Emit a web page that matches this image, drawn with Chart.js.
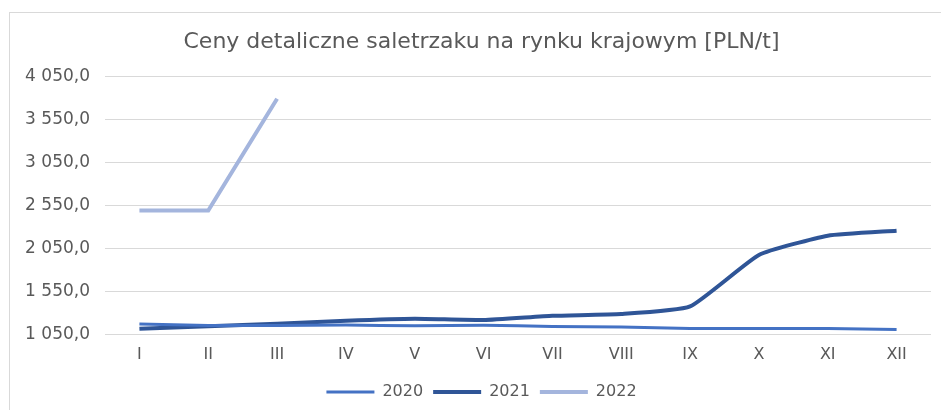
<!DOCTYPE html>
<html>
<head>
<meta charset="utf-8">
<script src="https://cdn.jsdelivr.net/npm/chart.js@4/dist/chart.umd.min.js"></script>
<style>
  html, body { margin: 0; padding: 0; background: #fff; }
  #wrap { position: relative; width: 941px; height: 410px; overflow: hidden; }
  #frame { position: absolute; left: 9px; top: 12px; width: 960px; height: 440px; border: 1px solid #D9D9D9; box-sizing: border-box; }
  canvas { position: absolute; left: 0; top: 0; }
</style>
</head>
<body>
<div id="wrap">
  <div id="frame"></div>
  <canvas id="chart" width="941" height="410"></canvas>
</div>
<script>
// months as roman numerals
const months = ['I', 'II', 'III', 'IV', 'V', 'VI', 'VII', 'VIII', 'IX', 'X', 'XI', 'XII'];

// PLN/t
const prices2020 = [1175, 1158, 1158, 1163, 1155, 1160, 1147, 1140, 1124, 1124, 1124, 1112];
const prices2021 = [1120, 1150, 1178, 1213, 1236, 1221, 1271, 1291, 1379, 1977, 2201, 2259];
const prices2022 = [2492, 2492, 3790, null, null, null, null, null, null, null, null, null];

const yTicks = [1050, 1550, 2050, 2550, 3050, 3550, 4050];

const grey = '#595959';
Chart.defaults.font.family = '"DejaVu Sans", sans-serif';
Chart.defaults.color = grey;

function fmt(v) {
    // 4050 -> "4 050,0"
    const s = Math.round(v).toString();
    const th = s.length > 3 ? s.slice(0, -3) + ' ' + s.slice(-3) : s;
    return th + ',0';
}

// title and legend sit a bit right of centre in the original
const nudgeRight = {
    id: 'nudgeRight',
    afterLayout(chart) {
        if (chart.titleBlock) chart.titleBlock.left += 32;
        if (chart.legend) chart.legend.left += 32;
    }
};

new Chart(document.getElementById('chart'), {
    type: 'line',
    data: {
        labels: months,
        datasets: [{
            label: '2020',
            data: prices2020,
            borderColor: '#4472C4',
            backgroundColor: '#4472C4',
            borderWidth: 3,
            tension: 0.15,
            pointRadius: 0
        }, {
            label: '2021',
            data: prices2021,
            borderColor: '#2F5597',
            backgroundColor: '#2F5597',
            borderWidth: 4,
            tension: 0.15,
            pointRadius: 0
        }, {
            label: '2022',
            data: prices2022,
            borderColor: '#A4B5DD',
            backgroundColor: '#A4B5DD',
            borderWidth: 4,
            tension: 0,
            pointRadius: 0
        }]
    },
    options: {
        responsive: false,
        animation: false,
        layout: { padding: { left: 0, right: 10, top: 12, bottom: 0 } },
        plugins: {
            title: {
                display: true,
                text: 'Ceny detaliczne saletrzaku na rynku krajowym [PLN/t]',
                color: grey,
                font: { size: 22, weight: 'normal' },
                padding: { top: 17, bottom: 21 }
            },
            legend: {
                position: 'bottom',
                labels: {
                    usePointStyle: true,
                    pointStyle: 'line',
                    pointStyleWidth: 48,
                    padding: 10,
                    color: grey,
                    font: { size: 16 }
                }
            },
            tooltip: { enabled: false }
        },
        scales: {
            x: {
                offset: true,
                grid: { display: false, drawTicks: false },
                border: { display: false },
                ticks: { padding: 10, font: { size: 16 }, color: grey }
            },
            y: {
                min: yTicks[0],
                max: yTicks[yTicks.length - 1],
                afterFit: (scale) => { scale.width = 105; },
                afterBuildTicks: (scale) => { scale.ticks = yTicks.map(v => ({ value: v })); },
                grid: { color: '#D9D9D9', lineWidth: 1, drawTicks: false },
                border: { display: false },
                ticks: { padding: 15, font: { size: 17 }, color: grey, callback: fmt }
            }
        }
    },
    plugins: [nudgeRight]
});
</script>
</body>
</html>
